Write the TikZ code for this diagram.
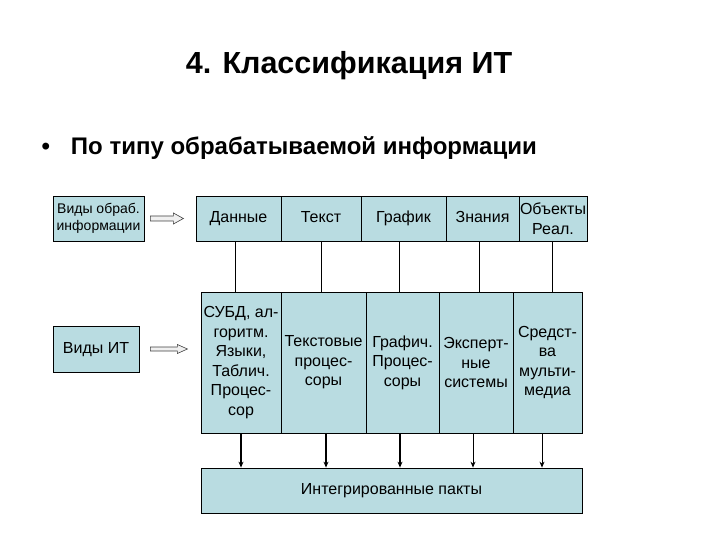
\documentclass[tikz,border=0pt]{standalone}
\usepackage{fontspec}
\setmainfont{Liberation Sans}
\usetikzlibrary{arrows.meta}
\definecolor{boxfill}{RGB}{185,220,225}
\tikzset{
  cell/.style={draw=black, line width=0.8pt, fill=boxfill, inner sep=1pt, align=center, font=\fontsize{16}{19.5}\selectfont},
  oneline/.style={text height=11.5pt, text depth=3.5pt},
  small/.style={font=\fontsize{14}{17}\selectfont},
  downarr/.style={line width=1.2pt, -{Stealth[length=6pt,width=5pt]}},
  link/.style={line width=0.8pt},
  blockarr/.style={draw=black!75, line width=0.6pt, fill=gray!12}
}
\begin{document}
\begin{tikzpicture}[x=1pt,y=-1pt]
\useasboundingbox (0,0) rectangle (720,540);
\node[font=\fontsize{30.5}{34}\selectfont\bfseries] (title) at (349,66) {4. Классификация ИТ};
\node[anchor=west, font=\fontsize{24}{28}\selectfont\bfseries] (bul) at (38,148) {•\hspace{21pt}По типу обрабатываемой информации};
% left boxes
\node[cell, small, minimum width=91pt, minimum height=45pt] (v1) at (98.5,218.5) {Виды обраб.\\информации};
\node[cell, oneline, minimum width=86pt, minimum height=46pt] (v2) at (96,349) {Виды ИТ};
% top row
\node[cell, oneline, minimum width=85pt, minimum height=45pt] (t1) at (238.5,218.5) {Данные};
\node[cell, oneline, minimum width=80pt, minimum height=45pt] (t2) at (321,218.5) {Текст};
\node[cell, oneline, minimum width=85pt, minimum height=45pt] (t3) at (403.5,218.5) {График};
\node[cell, oneline, minimum width=73pt, minimum height=45pt] (t4) at (482.5,218.5) {Знания};
\node[cell, minimum width=68pt, minimum height=45pt] (t5) at (553,218.5) {Объекты\\Реал.};
% second row
\node[cell, minimum width=80pt, minimum height=141pt] (s1) at (241,362.5) {СУБД, ал-\\горитм.\\Языки,\\Таблич.\\Процес-\\сор};
\node[cell, minimum width=85pt, minimum height=141pt] (s2) at (323.5,362.5) {Текстовые\\процес-\\соры};
\node[cell, minimum width=73pt, minimum height=141pt] (s3) at (402.5,362.5) {Графич.\\Процес-\\соры};
\node[cell, minimum width=74pt, minimum height=141pt] (s4) at (476,362.5) {Эксперт-\\ные\\системы};
\node[cell, minimum width=69pt, minimum height=141pt] (s5) at (547.5,362.5) {Средст-\\ва\\мульти-\\медиа};
% bottom
\node[cell, oneline, minimum width=381pt, minimum height=45pt] (ip) at (391.5,490.5) {Интегрированные пакты};
% links
\draw[link] ([xshift=-3.5pt]t1.south) -- ([xshift=-3.5pt]t1.south |- s1.north);
\draw[link] (t2.south) -- (t2.south |- s2.north);
\draw[link] ([xshift=-4.5pt]t3.south) -- ([xshift=-4.5pt]t3.south |- s3.north);
\draw[link] ([xshift=-3.5pt]t4.south) -- ([xshift=-3.5pt]t4.south |- s4.north);
\draw[link] ([xshift=-1pt]t5.south) -- ([xshift=-1pt]t5.south |- s5.north);
% down arrows
\draw[downarr] (s1.south) -- (s1.south |- ip.north);
\draw[downarr] ([xshift=2.5pt]s2.south) -- ([xshift=2.5pt]s2.south |- ip.north);
\draw[downarr] ([xshift=-2.5pt]s3.south) -- ([xshift=-2.5pt]s3.south |- ip.north);
\draw[downarr, line width=0.8pt] ([xshift=-3pt]s4.south) -- ([xshift=-3pt]s4.south |- ip.north);
\draw[downarr, line width=0.8pt] ([xshift=-5.5pt]s5.south) -- ([xshift=-5.5pt]s5.south |- ip.north);
% block arrows
\coordinate (a1) at ([xshift=6pt]v1.east);
\coordinate (a2) at ([xshift=11pt]v2.east);
\draw[blockarr] (a1) ++(0,-2.5) -- ++(23,0) -- ++(0,-3) -- ++(10,5.5) -- ++(-10,5.5) -- ++(0,-3) -- ++(-23,0) -- cycle;
\draw[blockarr] (a2) ++(0,-2) -- ++(27,0) -- ++(0,-2.5) -- ++(10,4.5) -- ++(-10,4.5) -- ++(0,-2.5) -- ++(-27,0) -- cycle;
\end{tikzpicture}
\end{document}
